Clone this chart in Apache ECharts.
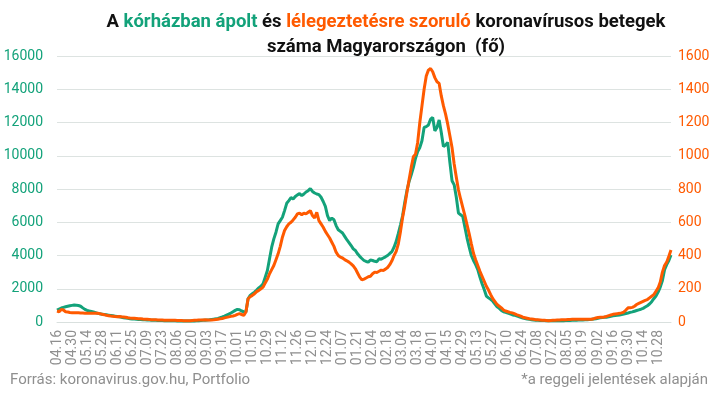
<!DOCTYPE html>
<html>
<head>
<meta charset="utf-8">
<script src="https://cdn.jsdelivr.net/npm/echarts@6/dist/echarts.min.js"></script>
<style>
  html, body { margin: 0; padding: 0; background: #fff; }
  #chart { width: 719px; height: 396px; }
</style>
</head>
<body>
<div id="chart"></div>
<script>
// every second day, starting 2020-04-16
const startDate = new Date(2020, 3, 16)
const stepDays = 2
const pointCount = 287

const categories = []
for (let i = 0; i < pointCount; i++) {
  const d = new Date(startDate.getTime())
  d.setDate(d.getDate() + i * stepDays)
  const mm = String(d.getMonth() + 1).padStart(2, '0')
  const dd = String(d.getDate()).padStart(2, '0')
  categories.push(mm + '.' + dd)
}

// kórházban ápolt (bal tengely)
const hospitalized = [
  720, 780, 840, 880, 920, 950, 980, 1000, 1020, 1010,
  990, 950, 850, 760, 700, 660, 630, 600, 560, 520,
  490, 470, 450, 430, 410, 390, 370, 350, 330, 310,
  290, 260, 240, 220, 200, 185, 175, 165, 155, 150,
  140, 130, 120, 115, 110, 105, 100, 95, 90, 85,
  80, 78, 75, 72, 70, 68, 65, 62, 60, 60,
  58, 58, 60, 62, 65, 70, 80, 90, 100, 110,
  120, 130, 150, 170, 190, 220, 260, 300, 350, 410,
  470, 540, 620, 700, 760, 740, 660, 620, 600, 1400,
  1600, 1700, 1800, 1920, 2050, 2150, 2300, 2700, 3100, 3800,
  4500, 5000, 5400, 5900, 6100, 6300, 6700, 7140, 7300, 7480,
  7400, 7550, 7650, 7720, 7600, 7700, 7820, 7900, 8030, 7850,
  7760, 7700, 7660, 7500, 7250, 6950, 6400, 6100, 6250, 6150,
  5800, 5550, 5450, 5350, 5150, 4950, 4780, 4600, 4400, 4300,
  4100, 3950, 3820, 3700, 3640, 3600, 3730, 3700, 3650, 3630,
  3800, 3780, 3850, 3920, 4000, 4120, 4230, 4500, 4850, 5330,
  5850, 6400, 7200, 7900, 8450, 8850, 9300, 9850, 10250, 10500,
  10900, 11700, 11750, 11850, 12200, 12300, 11500, 11700, 12150, 11400,
  10550, 10650, 10800, 9600, 8500, 8250, 7500, 6550, 6450, 6350,
  5700, 5050, 4500, 4000, 3700, 3450, 3150, 2700, 2300, 1950,
  1560, 1450, 1360, 1250, 1080, 910, 820, 700, 620, 580,
  530, 490, 440, 410, 370, 330, 280, 240, 210, 180,
  160, 140, 120, 110, 100, 95, 90, 85, 80, 80,
  78, 78, 75, 75, 78, 80, 80, 85, 90, 95,
  100, 105, 110, 115, 120, 125, 130, 140, 150, 160,
  180, 200, 230, 250, 270, 280, 290, 310, 340, 370,
  390, 400, 420, 450, 480, 510, 540, 580, 610, 650,
  690, 730, 770, 820, 900, 980, 1080, 1220, 1400, 1560,
  1800, 2100, 2500, 3150, 3450, 3700, 4030
]

// lélegeztetésre szoruló (jobb tengely)
const ventilated = [
  66, 62, 75, 72, 62, 60, 57, 56, 56, 55,
  55, 54, 54, 53, 52, 53, 52, 52, 53, 52,
  50, 46, 44, 40, 38, 36, 35, 33, 32, 33,
  31, 30, 29, 26, 24, 23, 22, 21, 20, 20,
  18, 17, 16, 15, 14, 14, 13, 12, 12, 12,
  11, 11, 10, 10, 10, 10, 9, 9, 9, 8,
  8, 8, 8, 9, 10, 11, 12, 12, 12, 13,
  12, 12, 12, 13, 15, 17, 19, 21, 25, 28,
  31, 34, 36, 40, 46, 50, 45, 40, 60, 140,
  152, 160, 170, 183, 190, 200, 210, 235, 258, 290,
  315, 340, 375, 410, 455, 510, 550, 573, 590, 600,
  614, 630, 650, 655, 645, 655, 650, 660, 670, 640,
  625, 660, 610, 590, 570, 545, 525, 505, 480, 455,
  420, 400, 390, 385, 375, 368, 360, 350, 338, 320,
  295, 270, 253, 258, 265, 272, 275, 290, 300, 298,
  305, 312, 310, 318, 328, 345, 368, 400, 425, 470,
  545, 630, 700, 780, 855, 930, 994, 1010, 1080, 1200,
  1300, 1400, 1480, 1515, 1525, 1505, 1470, 1445, 1435, 1360,
  1300, 1250, 1190, 1120, 1050, 950, 870, 794, 740, 690,
  640, 585, 530, 470, 413, 375, 340, 305, 275, 245,
  215, 192, 165, 140, 123, 105, 95, 85, 72, 66,
  62, 58, 55, 50, 44, 40, 35, 29, 26, 23,
  20, 18, 16, 14, 13, 12, 11, 10, 9, 8,
  9, 10, 11, 12, 12, 13, 14, 14, 15, 15,
  16, 16, 16, 16, 16, 16, 16, 16, 17, 17,
  20, 24, 27, 28, 28, 30, 34, 38, 42, 46,
  48, 50, 52, 55, 60, 72, 85, 86, 88, 95,
  105, 112, 118, 124, 130, 135, 145, 155, 165, 185,
  205, 240, 300, 340, 360, 395, 433
]

const leftTicks = { min: 0, max: 16000, interval: 2000 }
const rightTicks = { min: 0, max: 1600, interval: 200 }

const green = '#13a27a'
const orange = '#ff5a00'
const gray = '#8f8f8f'

const chart = echarts.init(document.getElementById('chart'))

const titleRich = (color) => ({
  color,
  fontWeight: 'bold',
  fontSize: 18.5,
  lineHeight: 25,
  fontFamily: 'Roboto',
})

chart.setOption({
  animation: false,
  textStyle: { fontFamily: 'Roboto' },
  title: {
    text: '{b|A }{g|kórházban ápolt}{b| és }{o|lélegeztetésre szoruló}{b| koronavírusos betegek}\n{b|száma Magyarországon  (fő)}',
    left: 381,
    top: 5,
    textAlign: 'center',
    textStyle: {
      rich: {
        b: titleRich('#111'),
        g: titleRich(green),
        o: titleRich(orange),
      },
    },
  },
  graphic: [
    {
      type: 'text',
      left: 10,
      top: 373,
      style: { text: 'Forrás: koronavirus.gov.hu, Portfolio', fill: gray, font: '15px Roboto' },
    },
    {
      type: 'text',
      right: 11,
      top: 373,
      style: { text: '*a reggeli jelentések alapján', fill: gray, font: '15px Roboto' },
    },
  ],
  grid: { left: 57, right: 48, top: 56, bottom: 74 },
  xAxis: {
    type: 'category',
    data: categories,
    boundaryGap: false,
    axisLine: { show: true, lineStyle: { color: '#d9e0de' } },
    axisTick: { show: false },
    axisLabel: {
      interval: 6,
      rotate: 90,
      color: gray,
      fontSize: 14,
      margin: 8,
    },
  },
  yAxis: [
    {
      type: 'value',
      ...leftTicks,
      position: 'left',
      axisLine: { show: false },
      axisTick: { show: false },
      axisLabel: { color: green, fontSize: 14, margin: 14, formatter: (v) => String(v) },
      splitLine: { lineStyle: { color: '#dde3e1' } },
    },
    {
      type: 'value',
      ...rightTicks,
      position: 'right',
      axisLine: { show: false },
      axisTick: { show: false },
      axisLabel: { color: orange, fontSize: 14, margin: 7, formatter: (v) => String(v) },
      splitLine: { show: false },
    },
  ],
  series: [
    {
      name: 'kórházban ápolt',
      type: 'line',
      yAxisIndex: 0,
      data: hospitalized,
      showSymbol: false,
      lineStyle: { color: green, width: 3 },
      itemStyle: { color: green },
    },
    {
      name: 'lélegeztetésre szoruló',
      type: 'line',
      yAxisIndex: 1,
      data: ventilated,
      showSymbol: false,
      lineStyle: { color: orange, width: 3 },
      itemStyle: { color: orange },
    },
  ],
})
</script>
</body>
</html>
